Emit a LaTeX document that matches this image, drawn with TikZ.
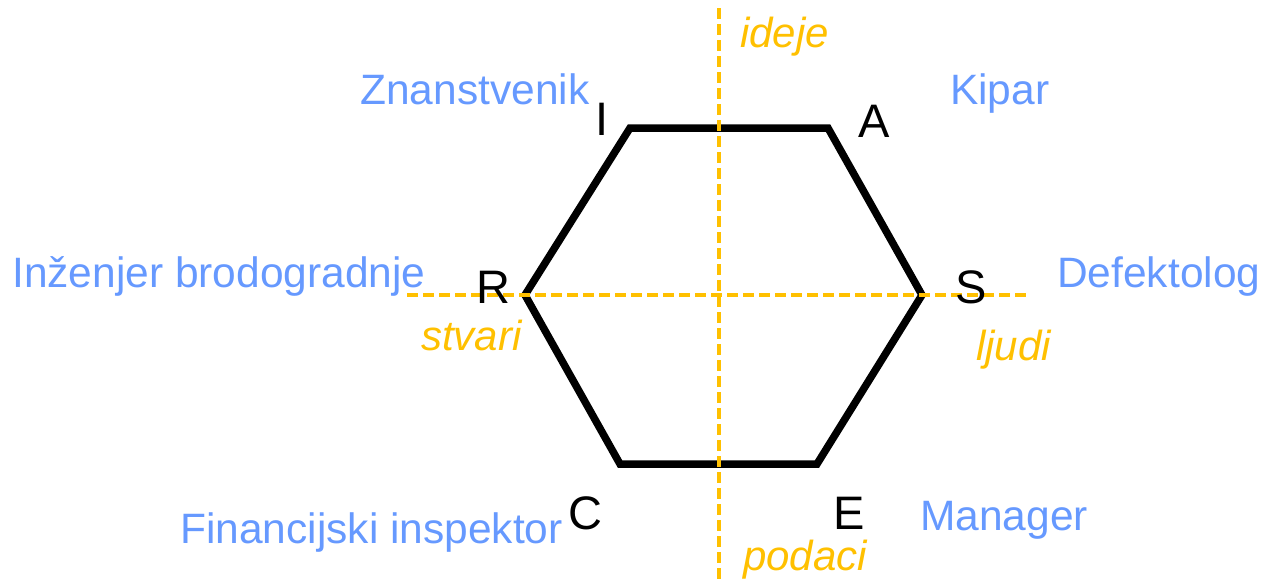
\documentclass[tikz,border=0pt]{standalone}
\usepackage{fontspec}
\setmainfont{Liberation Sans}
\definecolor{jobblue}{RGB}{102,153,255}
\definecolor{axisorange}{RGB}{255,192,0}
\tikzset{
  job/.style={anchor=base west, inner sep=0pt, text=jobblue, font=\fontsize{42.5}{50}\selectfont},
  letter/.style={anchor=base west, inner sep=0pt, text=black, font=\fontsize{47}{55}\selectfont},
  axislbl/.style={anchor=base west, inner sep=0pt, text=axisorange, font=\fontsize{42}{50}\selectfont\itshape},
  hexline/.style={line width=7.5pt, line join=miter, draw=black},
  axisline/.style={line width=3.4pt, draw=axisorange, dash pattern=on 11pt off 5pt},
}
\begin{document}
\begin{tikzpicture}[x=1pt,y=-1pt]
\useasboundingbox (0,0) rectangle (1262,581);
% hexagon vertices
\coordinate (vI) at (630,128);
\coordinate (vA) at (828,128);
\coordinate (vS) at (922,295);
\coordinate (vE) at (817,464);
\coordinate (vC) at (620,464);
\coordinate (vR) at (525,295);
\draw[hexline] (vI) -- (vA) -- (vS) -- (vE) -- (vC) -- (vR) -- cycle;
% axes
\coordinate (vtop) at (719,8);
\coordinate (vbot) at (719,581);
\coordinate (hleft) at (407,295);
\coordinate (hright) at (1028,295);
\draw[axisline] (vtop) -- (vbot);
\draw[axisline] (hleft) -- (hright);
% vertex letters
\node[letter] (lI) at (595,135) {I};
\node[letter] (lA) at (858,137) {A};
\node[letter] (lR) at (476,303) {R};
\node[letter] (lS) at (955,303) {S};
\node[letter] (lC) at (568,529) {C};
\node[letter] (lE) at (833,529) {E};
% axis labels
\node[axislbl] (ideje) at (740,47) {ideje};
\node[axislbl] (stvari) at (421,350) {stvari};
\node[axislbl] (ljudi) at (976,360) {ljudi};
\node[axislbl] (podaci) at (743,570) {podaci};
% job labels
\node[job] (znan) at (360,104) {Znanstvenik};
\node[job] (kipar) at (950,104) {Kipar};
\node[job] (inz) at (12,287) {Inženjer brodogradnje};
\node[job] (def) at (1057,287) {Defektolog};
\node[job] (fin) at (180,543) {Financijski inspektor};
\node[job] (man) at (920,530) {Manager};
\end{tikzpicture}
\end{document}
